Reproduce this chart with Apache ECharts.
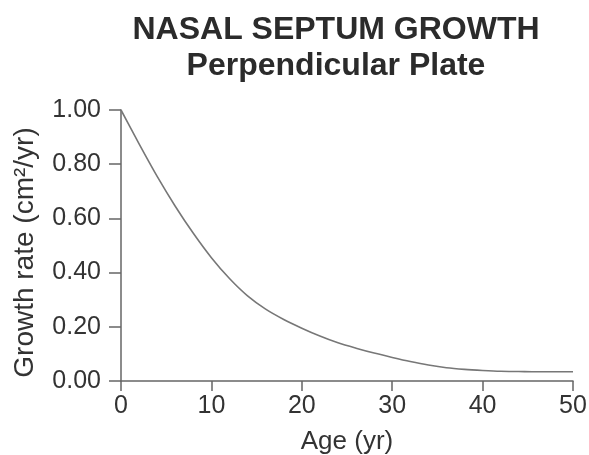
<!DOCTYPE html>
<html>
<head>
<meta charset="utf-8">
<script src="https://cdn.jsdelivr.net/npm/echarts@6/dist/echarts.min.js"></script>
<style>html,body{margin:0;padding:0;background:#fff}#c{width:589px;height:455px}</style>
</head>
<body>
<div id="c"></div>
<script>
const titleLines = ['NASAL SEPTUM GROWTH', 'Perpendicular Plate'];
const xTitle = 'Age (yr)';
const yTitle = 'Growth rate (cm²/yr)';
const ages = [0, 2, 4, 6, 8, 10, 12, 14, 16, 18, 20, 22, 24, 26, 28, 30, 32, 34, 36, 38, 40, 42, 44, 46, 48, 50];
const rates = [1.00, 0.875, 0.755, 0.645, 0.545, 0.455, 0.378, 0.314, 0.265, 0.227, 0.195, 0.166, 0.141, 0.121, 0.103, 0.087, 0.072, 0.059, 0.049, 0.043, 0.039, 0.036, 0.035, 0.034, 0.034, 0.034];

const font = '"Liberation Sans", Arial, Helvetica, sans-serif';
const chart = echarts.init(document.getElementById('c'));
chart.setOption({
  backgroundColor: '#fff',
  animation: false,
  title: {
    text: titleLines.join('\n'),
    left: 331,
    top: 7,
    textAlign: 'center',
    textStyle: { fontFamily: font, fontSize: 32, fontWeight: 'bold', color: '#2b2b2b', lineHeight: 36 }
  },
  grid: { left: 121, right: 16, top: 110, bottom: 74, containLabel: false, outerBoundsMode: 'none' },
  xAxis: {
    type: 'value', min: 0, max: 50, interval: 10,
    name: xTitle, nameLocation: 'middle', nameGap: 48,
    nameTextStyle: { fontFamily: font, fontSize: 26, color: '#333' },
    axisLine: { show: true, lineStyle: { color: '#666', width: 1.5 } },
    axisTick: { show: true, inside: false, length: 10, lineStyle: { color: '#666', width: 1.5 } },
    axisLabel: { fontFamily: font, fontSize: 25, color: '#333', margin: 13 },
    splitLine: { show: false }
  },
  yAxis: {
    type: 'value', min: 0, max: 1, interval: 0.2,
    name: yTitle, nameLocation: 'middle', nameGap: 82, nameRotate: 90,
    nameTextStyle: { fontFamily: font, fontSize: 28, color: '#333', padding: [0, 14, 0, 0] },
    axisLine: { show: true, lineStyle: { color: '#666', width: 1.5 } },
    axisTick: { show: true, inside: false, length: 12, lineStyle: { color: '#666', width: 1.5 } },
    axisLabel: { fontFamily: font, fontSize: 25, color: '#333', margin: 20, formatter: v => v.toFixed(2) },
    splitLine: { show: false }
  },
  series: [{
    type: 'line',
    data: ages.map((a, i) => [a, rates[i]]),
    smooth: 0.3,
    symbol: 'none',
    lineStyle: { color: '#777', width: 1.6 }
  }]
});
</script>
</body>
</html>
